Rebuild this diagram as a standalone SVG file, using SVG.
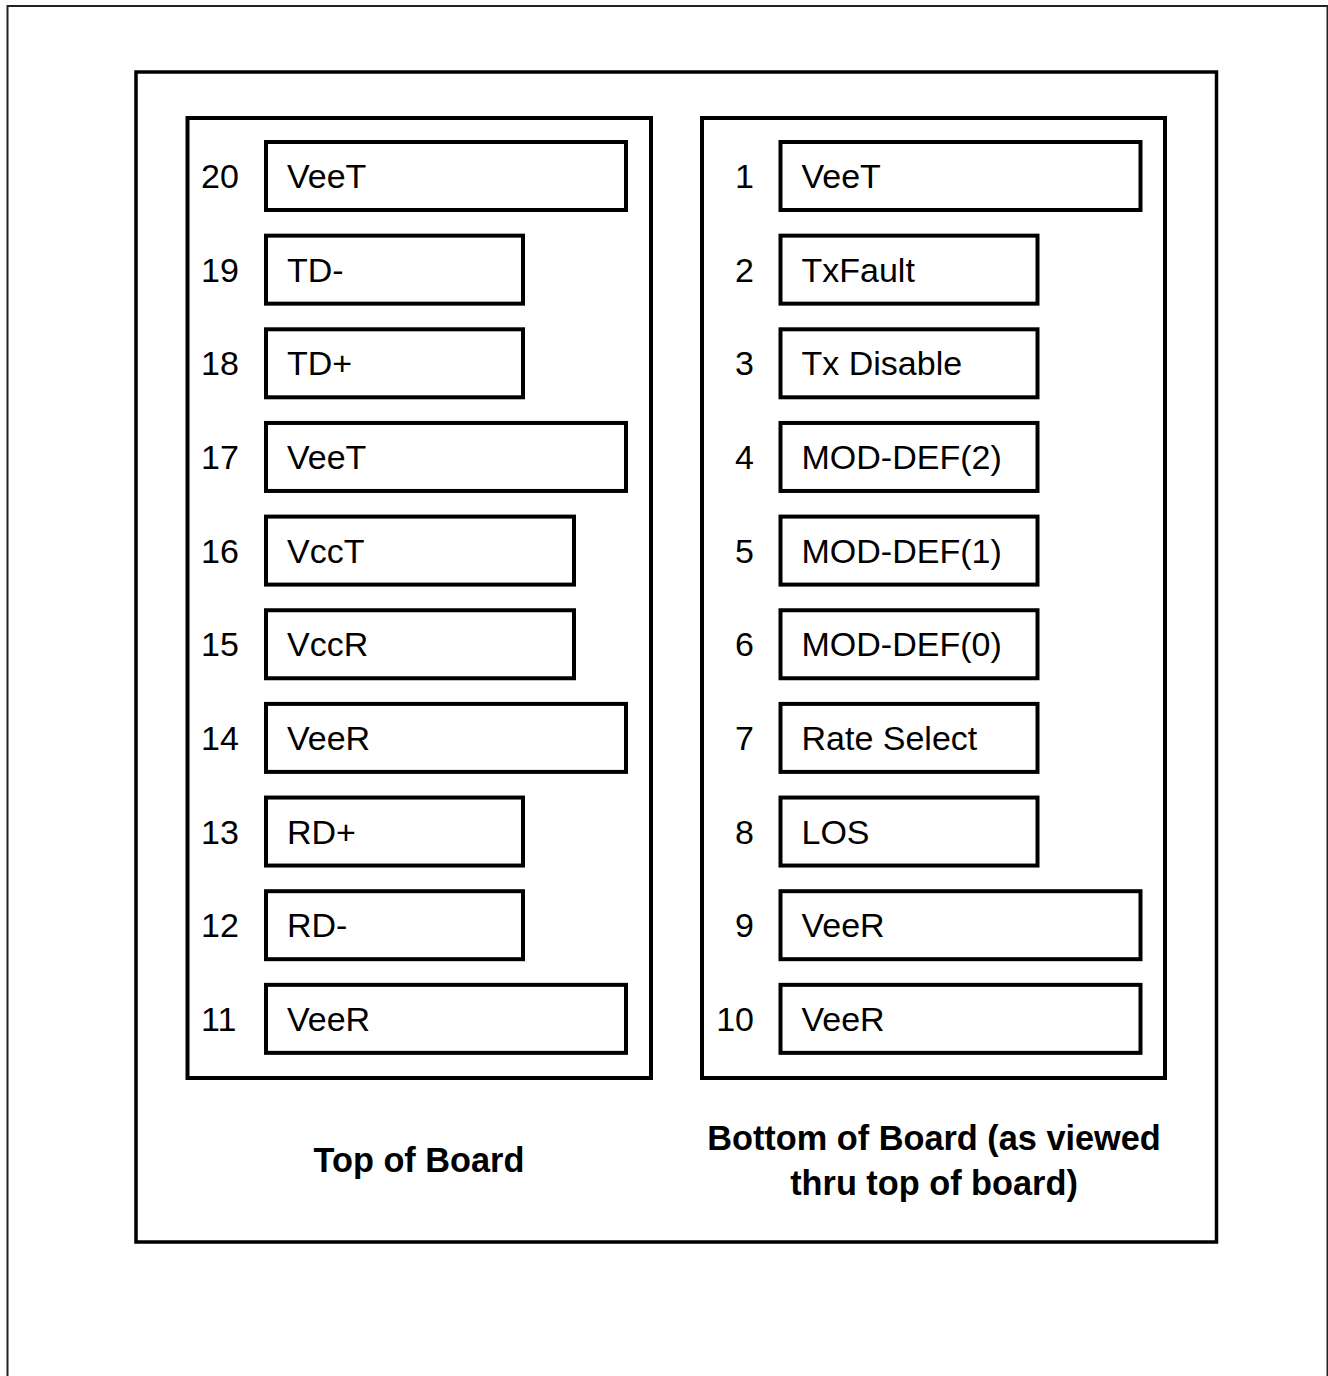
<svg xmlns="http://www.w3.org/2000/svg" width="1328" height="1376" viewBox="0 0 1328 1376">
<style>
.frame{fill:none;stroke:#222;stroke-width:2}
.board{fill:none;stroke:#000;stroke-width:3.5}
.panel{fill:none;stroke:#000;stroke-width:4}
.pin{fill:#fff;stroke:#000;stroke-width:4}
.lbl{font-family:"Liberation Sans",Arial,sans-serif;font-size:34px;fill:#000}
.num{font-family:"Liberation Sans",Arial,sans-serif;font-size:34px;fill:#000}
.cap{font-family:"Liberation Sans",Arial,sans-serif;font-size:34.3px;font-weight:bold;fill:#000;text-anchor:middle}
</style>
<rect width="1328" height="1376" fill="#fff"/>
<rect class="frame" x="7.5" y="6" width="1320" height="1420"/>
<rect class="board" x="136" y="72" width="1080.5" height="1170"/>
<g id="top-panel">
<rect class="panel" x="187.5" y="118" width="463.5" height="960"/>
</g>
<g id="bottom-panel">
<rect class="panel" x="702" y="118" width="463" height="960"/>
</g>
<g id="connectors"></g>
<g id="pin20"><rect class="pin" x="266" y="142" width="360" height="68"/><text class="num" x="201" y="188">20</text><text class="lbl" x="287" y="188">VeeT</text></g>
<g id="pin19"><rect class="pin" x="266" y="235.65" width="257" height="68"/><text class="num" x="201" y="281.65">19</text><text class="lbl" x="287" y="281.65">TD-</text></g>
<g id="pin18"><rect class="pin" x="266" y="329.3" width="257" height="68"/><text class="num" x="201" y="375.3">18</text><text class="lbl" x="287" y="375.3">TD+</text></g>
<g id="pin17"><rect class="pin" x="266" y="422.95" width="360" height="68"/><text class="num" x="201" y="468.95">17</text><text class="lbl" x="287" y="468.95">VeeT</text></g>
<g id="pin16"><rect class="pin" x="266" y="516.6" width="308" height="68"/><text class="num" x="201" y="562.6">16</text><text class="lbl" x="287" y="562.6">VccT</text></g>
<g id="pin15"><rect class="pin" x="266" y="610.25" width="308" height="68"/><text class="num" x="201" y="656.25">15</text><text class="lbl" x="287" y="656.25">VccR</text></g>
<g id="pin14"><rect class="pin" x="266" y="703.9" width="360" height="68"/><text class="num" x="201" y="749.9">14</text><text class="lbl" x="287" y="749.9">VeeR</text></g>
<g id="pin13"><rect class="pin" x="266" y="797.55" width="257" height="68"/><text class="num" x="201" y="843.55">13</text><text class="lbl" x="287" y="843.55">RD+</text></g>
<g id="pin12"><rect class="pin" x="266" y="891.2" width="257" height="68"/><text class="num" x="201" y="937.2">12</text><text class="lbl" x="287" y="937.2">RD-</text></g>
<g id="pin11"><rect class="pin" x="266" y="984.85" width="360" height="68"/><text class="num" x="201" y="1030.85">11</text><text class="lbl" x="287" y="1030.85">VeeR</text></g>
<g id="pin1"><rect class="pin" x="780.5" y="142" width="360" height="68"/><text class="num" x="754" y="188" text-anchor="end">1</text><text class="lbl" x="801.5" y="188">VeeT</text></g>
<g id="pin2"><rect class="pin" x="780.5" y="235.65" width="257" height="68"/><text class="num" x="754" y="281.65" text-anchor="end">2</text><text class="lbl" x="801.5" y="281.65">TxFault</text></g>
<g id="pin3"><rect class="pin" x="780.5" y="329.3" width="257" height="68"/><text class="num" x="754" y="375.3" text-anchor="end">3</text><text class="lbl" x="801.5" y="375.3">Tx Disable</text></g>
<g id="pin4"><rect class="pin" x="780.5" y="422.95" width="257" height="68"/><text class="num" x="754" y="468.95" text-anchor="end">4</text><text class="lbl" x="801.5" y="468.95">MOD-DEF(2)</text></g>
<g id="pin5"><rect class="pin" x="780.5" y="516.6" width="257" height="68"/><text class="num" x="754" y="562.6" text-anchor="end">5</text><text class="lbl" x="801.5" y="562.6">MOD-DEF(1)</text></g>
<g id="pin6"><rect class="pin" x="780.5" y="610.25" width="257" height="68"/><text class="num" x="754" y="656.25" text-anchor="end">6</text><text class="lbl" x="801.5" y="656.25">MOD-DEF(0)</text></g>
<g id="pin7"><rect class="pin" x="780.5" y="703.9" width="257" height="68"/><text class="num" x="754" y="749.9" text-anchor="end">7</text><text class="lbl" x="801.5" y="749.9">Rate Select</text></g>
<g id="pin8"><rect class="pin" x="780.5" y="797.55" width="257" height="68"/><text class="num" x="754" y="843.55" text-anchor="end">8</text><text class="lbl" x="801.5" y="843.55">LOS</text></g>
<g id="pin9"><rect class="pin" x="780.5" y="891.2" width="360" height="68"/><text class="num" x="754" y="937.2" text-anchor="end">9</text><text class="lbl" x="801.5" y="937.2">VeeR</text></g>
<g id="pin10"><rect class="pin" x="780.5" y="984.85" width="360" height="68"/><text class="num" x="754" y="1030.85" text-anchor="end">10</text><text class="lbl" x="801.5" y="1030.85">VeeR</text></g>
<g id="captions">
<text class="cap" x="419" y="1172">Top of Board</text>
<text class="cap" x="934" y="1150">Bottom of Board (as viewed</text>
<text class="cap" x="934" y="1195">thru top of board)</text>
</g>
</svg>
